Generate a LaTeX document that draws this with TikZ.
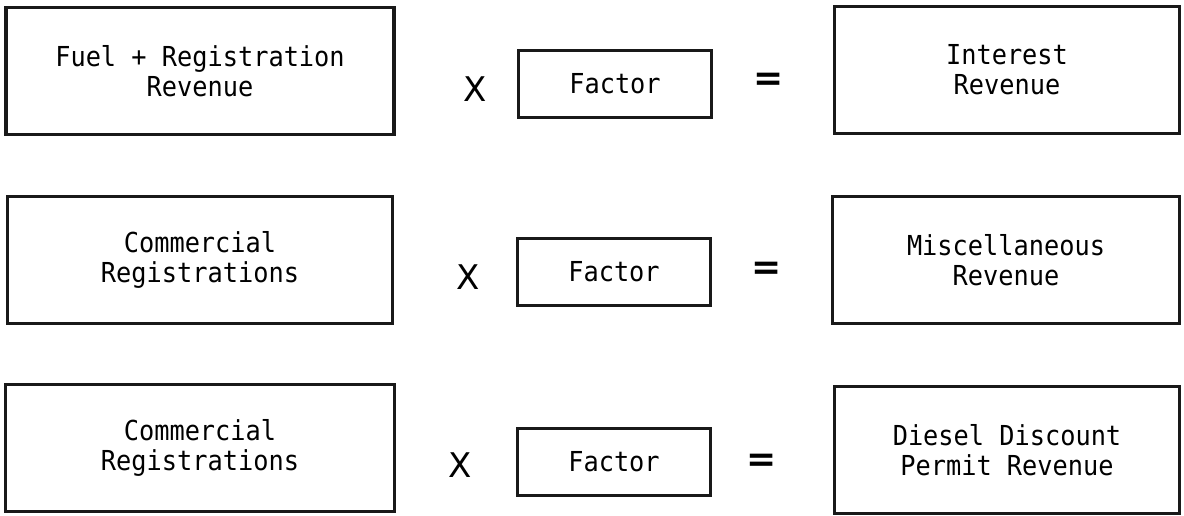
\documentclass[tikz,border=0pt]{standalone}
\usepackage{fontspec}
\newfontfamily\boxfont[FakeStretch=0.92]{DejaVu Sans Mono}
\newfontfamily\opfont{DejaVu Sans}
\begin{document}
\begin{tikzpicture}[x=1pt,y=-1pt,
  frame/.style={draw=black!90, line width=3.5pt, inner sep=0pt, align=center,
    font=\boxfont\fontsize{27.5}{30}\selectfont},
  bigbox/.style={frame, minimum height=127pt},
  factorbox/.style={frame, minimum width=193pt, minimum height=67pt},
  op/.style={inner sep=0pt, font=\opfont\fontsize{34}{34}\selectfont},
  eqsign/.style={inner sep=0pt, font=\opfont\bfseries\fontsize{36}{36}\selectfont}]
\useasboundingbox (0,0) rectangle (1184,516);

% row 1
\node[bigbox, minimum width=388pt] (in1) at (200,71) {Fuel + Registration\\Revenue};
\node[op] (x1) at (475,89) {X};
\node[factorbox] (f1) at (615,84) {Factor};
\node[eqsign] (eq1) at (769,82) {=};
\node[bigbox, minimum width=345pt] (out1) at (1007,70) {Interest\\Revenue};

% row 2
\node[bigbox, minimum width=385pt] (in2) at (200,260) {Commercial\\Registrations};
\node[op] (x2) at (468,277) {X};
\node[factorbox] (f2) at (614,272) {Factor};
\node[eqsign] (eq2) at (767,271) {=};
\node[bigbox, minimum width=347pt] (out2) at (1006,260) {Miscellaneous\\Revenue};

% row 3
\node[bigbox, minimum width=389pt] (in3) at (200,448) {Commercial\\Registrations};
\node[op] (x3) at (460,465) {X};
\node[factorbox] (f3) at (614,462) {Factor};
\node[eqsign] (eq3) at (762,463) {=};
\node[bigbox, minimum width=345pt] (out3) at (1007,450) {Diesel Discount\\Permit Revenue};
\end{tikzpicture}
\end{document}
